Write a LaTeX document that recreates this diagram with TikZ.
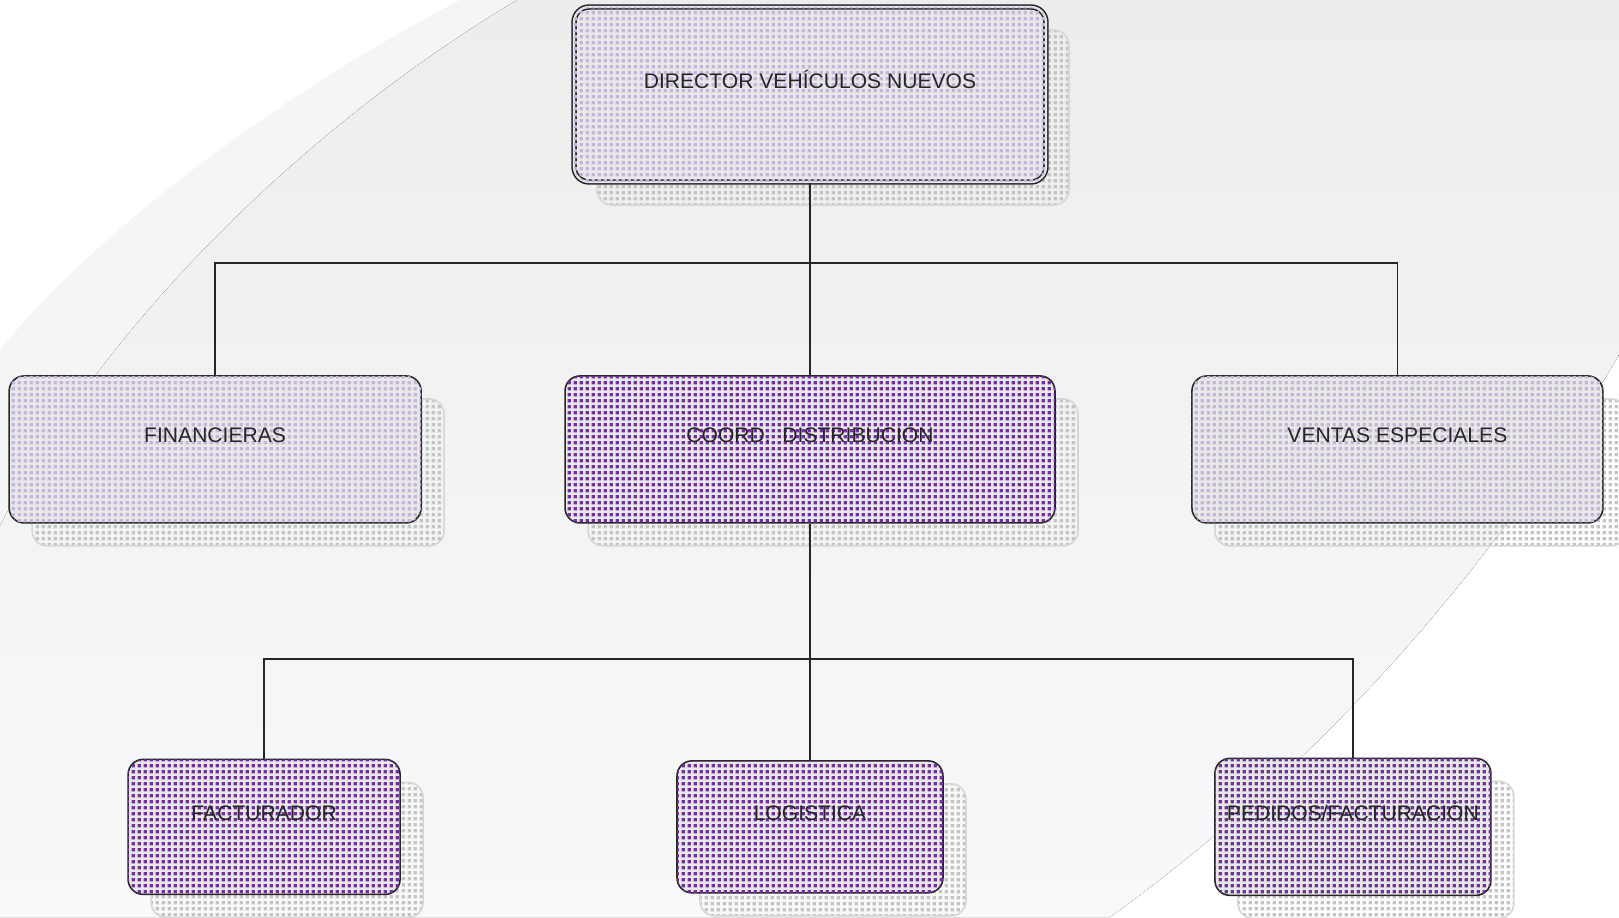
\documentclass[tikz,border=0pt]{standalone}
\usepackage{fontspec}
\setmainfont{Liberation Sans}
\usepackage{tikz}
\usetikzlibrary{positioning,patterns,shadows}

\definecolor{ink}{HTML}{262626}
\definecolor{boxbase}{HTML}{E8E8E8}
\definecolor{lightdot}{HTML}{C6B4D9}
\definecolor{darkdot}{HTML}{7030A0}
\definecolor{shadowdot}{HTML}{C4C4C4}
\definecolor{shadowline}{HTML}{D6D6D6}
\definecolor{bgband}{HTML}{F5F5F5}
\definecolor{bgtop}{HTML}{EDEDED}
\definecolor{bgbot}{HTML}{F8F9FA}

% small square dots, as in the fill of the boxes
\pgfdeclarepatternformonly{boxdots}{\pgfqpoint{0pt}{0pt}}{\pgfqpoint{3.4pt}{3.4pt}}{\pgfqpoint{3.4pt}{3.4pt}}{%
  \pgfpathrectangle{\pgfqpoint{0.4pt}{0.4pt}}{\pgfqpoint{1.8pt}{1.8pt}}\pgfusepath{fill}}

\tikzset{
    unit/.style={
           rectangle,
           rounded corners=0.3cm,
           draw=ink, line width=0.9pt,
           fill=boxbase,
           text=ink,
           font=\fontsize{12pt}{14pt}\selectfont,
           text height=0.3cm, text depth=0.56cm,
           text centered,
           general shadow={shadow xshift=0.46cm, shadow yshift=-0.46cm,
                           draw=shadowline, line width=0.9pt,
                           pattern=boxdots, pattern color=shadowdot},
           },
    light/.style={unit, postaction={pattern=boxdots, pattern color=lightdot}},
    dark/.style={unit, postaction={pattern=boxdots, pattern color=darkdot}},
    link/.style={draw=ink, line width=0.9pt},
}

\begin{document}
\begin{tikzpicture}[x=0.02cm, y=-0.02cm]
    % background with the light swoosh
    \fill[white] (0,0) rectangle (1619,917);
    \fill[bgband] (460,0) -- (1619,0) -- (1619,355)
        .. controls (1480,590) and (1300,780) .. (1110,917)
        -- (0,917) -- (0,350)
        .. controls (80,250) and (250,110) .. (460,0) -- cycle;
    \fill[top color=bgtop, bottom color=bgbot] (517,0) -- (1619,0) -- (1619,355)
        .. controls (1480,590) and (1300,780) .. (1110,917)
        -- (0,917) -- (0,526)
        .. controls (100,330) and (300,130) .. (517,0) -- cycle;
    \useasboundingbox (0,0) rectangle (1619,917);

    % head of the chart
    \node[light, double=boxbase, double distance=1.3pt,
    minimum width=9.44cm, 	% box width
    minimum height=3.5cm,
    anchor=center] (dir) at (810,94.5)
    {DIRECTOR VEHÍCULOS NUEVOS};

    % second row
    \node[dark,
    minimum width=9.8cm, minimum height=2.94cm,
    below of=dir,
    node distance=7.1cm,
    anchor=center] (coord)
    {COORD.~~DISTRIBUCIÓN};

    \node[light,
    minimum width=8.24cm, minimum height=2.94cm,
    left of=coord,
    node distance=11.9cm,
    anchor=center] (fin)
    {FINANCIERAS};

    \node[light,
    minimum width=8.22cm, minimum height=2.94cm,
    right of=coord,
    node distance=11.75cm,
    anchor=center] (ventas)
    {VENTAS ESPECIALES};

    % third row
    \node[dark,
    minimum width=5.32cm, minimum height=2.64cm,
    below of=coord,
    node distance=7.55cm,
    anchor=center] (log)
    {LOGISTICA};

    \node[dark,
    minimum width=5.44cm, minimum height=2.7cm,
    left of=log,
    node distance=10.92cm,
    anchor=center] (fact)
    {FACTURADOR};

    \node[dark,
    minimum width=5.52cm, minimum height=2.74cm,
    right of=log,
    node distance=10.86cm,
    anchor=center] (ped)
    {PEDIDOS/FACTURACIÓN};

    % bus lines of the chart
    \coordinate (bus1) at (810,263);
    \coordinate (bus2) at (810,659);

    \path[link]
        (dir.south) -- (dir.south |- bus1)
        (fin.north) -- (fin.north |- bus1) -- (ventas.north |- bus1) -- (ventas.north)
        (dir.south |- bus1) -- (coord.north);

    \path[link]
        (coord.south) -- (coord.south |- bus2)
        (fact.north) -- (fact.north |- bus2) -- (ped.north |- bus2) -- (ped.north)
        (coord.south |- bus2) -- (log.north);
\end{tikzpicture}
\end{document}
